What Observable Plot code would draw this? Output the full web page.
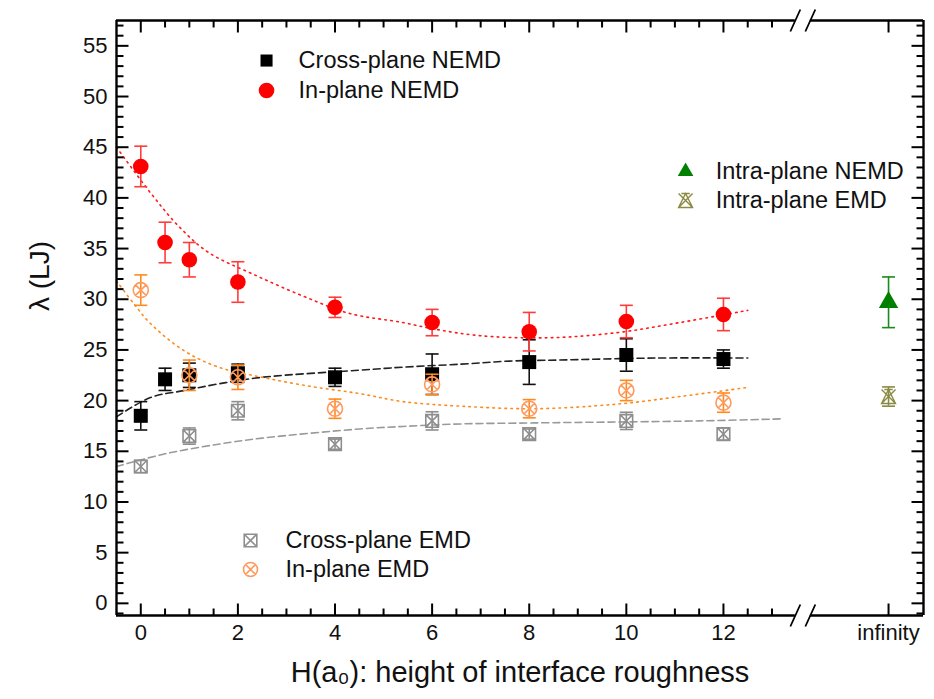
<!DOCTYPE html>
<html><head><meta charset="utf-8">
<script src="https://cdn.jsdelivr.net/npm/d3@7"></script>
<script src="https://cdn.jsdelivr.net/npm/@observablehq/plot@0.6"></script>
<style>body{margin:0;background:#fff}</style>
</head><body><div id="chart"></div>
<script>
// ---------- data ----------
const INF = 15.4; // position of the "infinity" category on the x axis
const xNEMD = [0, 0.5, 1, 2, 4, 6, 8, 10, 12];
const crossNEMD = [18.5, 22.1, 22.5, 22.7, 22.3, 22.6, 23.8, 24.5, 24.1];
const crossNEMDErr = [1.4, 1.1, 1.2, 0.9, 0.9, 2.0, 2.2, 1.6, 0.9];
const inNEMD = [43.1, 35.6, 33.9, 31.7, 29.2, 27.7, 26.8, 27.8, 28.5];
const inNEMDErr = [2.0, 2.0, 1.7, 2.0, 1.0, 1.3, 1.9, 1.6, 1.6];
const xEMD = [0, 1, 2, 4, 6, 8, 10, 12];
const crossEMD = [13.5, 16.5, 19.0, 15.7, 18.0, 16.7, 18.0, 16.7];
const crossEMDErr = [0.6, 0.8, 0.9, 0.5, 0.9, 0.5, 0.85, 0.6];
const inEMD = [30.9, 22.5, 22.3, 19.2, 21.6, 19.2, 21.0, 19.8];
const inEMDErr = [1.5, 1.5, 1.2, 0.95, 1.0, 0.9, 1.0, 0.95];
const intraNEMD = [29.7], intraNEMDErr = [2.5];
const intraEMD = [20.4], intraEMDErr = [0.95];

// fitted guide curves
const redFitX = [-0.5, 0.2, 0.8, 1.4, 2.3, 3.3, 4.3, 5.4, 6.0, 7.0, 8.4, 9.8, 11.1, 12.5];
const redFitY = [45.0, 40.5, 37.1, 34.6, 32.5, 30.4, 28.6, 27.7, 27.1, 26.4, 26.2, 26.7, 27.7, 28.9];
const orangeFitX = [-0.5, -0.15, 0.2, 0.9, 1.6, 2.5, 3.5, 4.5, 5.4, 6.6, 8.1, 9.8, 11.1, 12.5];
const orangeFitY = [31.8, 29.6, 27.6, 24.9, 23.3, 22.3, 21.4, 20.7, 19.9, 19.45, 19.2, 19.65, 20.4, 21.3];
const blackFitX = [-0.5, 0.2, 0.9, 1.6, 2.5, 4.5, 5.4, 6.6, 7.6, 8.6, 10.6, 12.5];
const blackFitY = [18.4, 20.3, 21.0, 21.65, 22.3, 23.0, 23.3, 23.6, 23.9, 24.0, 24.2, 24.2];
const grayFitX = [-0.5, 0.5, 1.6, 2.5, 4.5, 5.4, 6.6, 8.1, 11.5, 13.2];
const grayFitY = [13.5, 14.75, 15.7, 16.3, 17.2, 17.45, 17.7, 17.8, 18.0, 18.2];

// ticks
const xMajor = [0, 2, 4, 6, 8, 10, 12, INF];
const xMajorLabels = ["0", "2", "4", "6", "8", "10", "12", "infinity"];
const xMinor = [0.5, 1, 1.5, 2.5, 3, 3.5, 4.5, 5, 5.5, 6.5, 7, 7.5, 8.5, 9, 9.5, 10.5, 11, 11.5, 12.5, 13];
const yMajor = [0, 5, 10, 15, 20, 25, 30, 35, 40, 45, 50, 55];
const yMinor = d3.range(-1, 58).filter(v => v % 5 !== 0);

const legendLabels = ["Cross-plane NEMD", "In-plane NEMD", "Intra-plane NEMD", "Intra-plane EMD", "Cross-plane EMD", "In-plane EMD"];

// ---------- layout ----------
const X_DOMAIN = [-0.5, 16.12], Y_DOMAIN = [-1.2, 57.5];
const GAP = [13.48, 13.79];
const BREAK_X = 13.635;
const legendPos = [
  {sx: 2.59, tx: 3.25, y: 53.55}, {sx: 2.59, tx: 3.25, y: 50.6},
  {sx: 11.22, tx: 11.84, y: 42.6}, {sx: 11.22, tx: 11.84, y: 39.74},
  {sx: 2.26, tx: 2.98, y: 6.2}, {sx: 2.26, tx: 2.98, y: 3.34}
];

// ---------- symbols ----------
const rad = s => Math.sqrt(s / Math.PI);
const squareX = {draw(c, s) { const r = rad(s);
  c.moveTo(-r, -r); c.lineTo(r, -r); c.lineTo(r, r); c.lineTo(-r, r); c.closePath();
  c.moveTo(-r, -r); c.lineTo(r, r); c.moveTo(r, -r); c.lineTo(-r, r); }};
const circleX = {draw(c, s) { const r = rad(s), k = r * Math.SQRT1_2;
  c.moveTo(r, 0); c.arc(0, 0, r, 0, 2 * Math.PI);
  c.moveTo(-k, -k); c.lineTo(k, k); c.moveTo(k, -k); c.lineTo(-k, k); }};
const hourglass = {draw(c, s) { const r = rad(s);
  c.moveTo(-r, -r); c.lineTo(r, r); c.moveTo(r, -r); c.lineTo(-r, r);
  c.moveTo(-r, r); c.lineTo(0, -r); c.lineTo(r, r); c.closePath();
  c.moveTo(-r * 0.6, -r); c.lineTo(r * 0.6, -r); }};
const cap = {draw(c, s) { const r = rad(s); c.moveTo(-r, 0); c.lineTo(r, 0); }};
const seg = (dx, dy) => ({draw(c) { c.moveTo(0, 0); c.lineTo(dx, dy); }});
const slashes = {draw(c) {
  c.moveTo(-12.5, 11); c.lineTo(-2.5, -11);
  c.moveTo(2.5, 11); c.lineTo(12.5, -11); }};

// ---------- series table ----------
const rows = (xs, ys, es) => xs.map((x, i) => ({x, y: ys[i], lo: ys[i] - es[i], hi: ys[i] + es[i]}));
const series = [
  {name: legendLabels[4], data: rows(xEMD, crossEMD, crossEMDErr), stroke: "#8e8e8e", err: "#8e8e8e", fill: "none", symbol: squareX, r: 6.3, lr: 6.3, sw: 1.6, leg: 4},
  {name: legendLabels[0], data: rows(xNEMD, crossNEMD, crossNEMDErr), stroke: "#000", err: "#111", fill: "#000", symbol: "square", r: 7.9, lr: 6.8, sw: 0, leg: 0},
  {name: legendLabels[5], data: rows(xEMD, inEMD, inEMDErr), stroke: "#ff9a5e", err: "#ff8a1c", fill: "none", symbol: circleX, r: 7.5, lr: 7, sw: 1.6, leg: 5},
  {name: legendLabels[1], data: rows(xNEMD, inNEMD, inNEMDErr), stroke: "#ff0000", err: "#ff3c3c", fill: "#ff0000", symbol: "circle", r: 7.8, lr: 7.8, sw: 0, leg: 1},
  {name: legendLabels[2], data: rows([INF], intraNEMD, intraNEMDErr), stroke: "#008000", err: "#1a8a1a", fill: "#008000", symbol: "triangle", r: 7.2, lr: 5.8, sw: 0, leg: 2},
  {name: legendLabels[3], data: rows([INF], intraEMD, intraEMDErr), stroke: "#8a8a45", err: "#8a8a45", fill: "none", symbol: hourglass, r: 7, lr: 7, sw: 1.4, leg: 3}
];

const fits = [
  {x: grayFitX, y: grayFitY, stroke: "#9a9a9a", dash: "7,4"},
  {x: blackFitX, y: blackFitY, stroke: "#222", dash: "7,4"},
  {x: orangeFitX, y: orangeFitY, stroke: "#ff8a1c", dash: "1.6,4.4"},
  {x: redFitX, y: redFitY, stroke: "#ff1a1a", dash: "1.6,4.4"}
];

const frameSegs = [
  {y: Y_DOMAIN[0], x1: X_DOMAIN[0], x2: GAP[0]}, {y: Y_DOMAIN[0], x1: GAP[1], x2: X_DOMAIN[1]},
  {y: Y_DOMAIN[1], x1: X_DOMAIN[0], x2: GAP[0]}, {y: Y_DOMAIN[1], x1: GAP[1], x2: X_DOMAIN[1]}
];

const marks = [];
// fits
for (const f of fits) {
  marks.push(Plot.line(f.x.map((x, i) => ({x, y: f.y[i]})), {x: "x", y: "y", stroke: f.stroke, strokeWidth: 1.6, strokeDasharray: f.dash, curve: "catmull-rom"}));
}
// series
for (const s of series) {
  marks.push(Plot.ruleX(s.data, {x: "x", y1: "lo", y2: "hi", stroke: s.err, strokeWidth: 1.6}));
  marks.push(Plot.dot(s.data, {x: "x", y: "lo", symbol: cap, r: 6.5, stroke: s.err, strokeWidth: 1.6, fill: "none"}));
  marks.push(Plot.dot(s.data, {x: "x", y: "hi", symbol: cap, r: 6.5, stroke: s.err, strokeWidth: 1.6, fill: "none"}));
  marks.push(Plot.dot(s.data, {x: "x", y: "y", symbol: s.symbol, r: s.r, fill: s.fill, stroke: s.sw ? s.stroke : "none", strokeWidth: s.sw}));
  const p = legendPos[s.leg];
  marks.push(Plot.dot([p], {x: "sx", y: "y", symbol: s.symbol, r: s.lr, fill: s.fill, stroke: s.sw ? s.stroke : "none", strokeWidth: s.sw}));
  marks.push(Plot.text([p], {x: "tx", y: "y", text: () => s.name, textAnchor: "start", fontSize: 23.5, fill: "#111"}));
}
// frame
marks.push(Plot.ruleX([X_DOMAIN[0], X_DOMAIN[1]], {stroke: "#000", strokeWidth: 2.4}));
marks.push(Plot.ruleY(frameSegs, {y: "y", x1: "x1", x2: "x2", stroke: "#000", strokeWidth: 2.4}));
// break marks
marks.push(Plot.dot([BREAK_X], {x: d => d, frameAnchor: "bottom", symbol: slashes, stroke: "#000", strokeWidth: 1.8, fill: "none"}));
marks.push(Plot.dot([BREAK_X], {x: d => d, frameAnchor: "top", symbol: slashes, stroke: "#000", strokeWidth: 1.8, fill: "none"}));
// ticks (inward)
const tk = {stroke: "#000", strokeWidth: 2, fill: "none"};
marks.push(Plot.dot(xMajor, {x: d => d, frameAnchor: "bottom", symbol: seg(0, -12), ...tk}));
marks.push(Plot.dot(xMinor, {x: d => d, frameAnchor: "bottom", symbol: seg(0, -7), ...tk}));
marks.push(Plot.dot(xMajor, {x: d => d, frameAnchor: "top", symbol: seg(0, 12), ...tk}));
marks.push(Plot.dot(xMinor, {x: d => d, frameAnchor: "top", symbol: seg(0, 7), ...tk}));
marks.push(Plot.dot(yMajor, {y: d => d, frameAnchor: "left", symbol: seg(12, 0), ...tk}));
marks.push(Plot.dot(yMinor, {y: d => d, frameAnchor: "left", symbol: seg(7, 0), ...tk}));
marks.push(Plot.dot(yMajor, {y: d => d, frameAnchor: "right", symbol: seg(-12, 0), ...tk}));
marks.push(Plot.dot(yMinor, {y: d => d, frameAnchor: "right", symbol: seg(-7, 0), ...tk}));
// tick labels
marks.push(Plot.text(xMajor, {x: d => d, text: (d, i) => xMajorLabels[i], frameAnchor: "bottom", dy: 24, fontSize: 22, fill: "#111"}));
marks.push(Plot.text(yMajor, {y: d => d, text: d => String(d), frameAnchor: "left", dx: -9, textAnchor: "end", fontSize: 22, fill: "#111"}));
// axis titles
marks.push(Plot.text(["H(a\u2080): height of interface roughness"], {text: d => d, frameAnchor: "bottom", dy: 66, fontSize: 29, fill: "#111"}));
marks.push(Plot.text(["\u03bb (LJ)"], {text: d => d, frameAnchor: "left", dx: -76, dy: -7, rotate: -90, fontSize: 28, fill: "#111"}));

const chart = Plot.plot({
  width: 934, height: 699,
  marginLeft: 116, marginRight: 11, marginTop: 20, marginBottom: 84,
  x: {domain: X_DOMAIN, axis: null},
  y: {domain: Y_DOMAIN, axis: null},
  style: {fontFamily: "'Liberation Sans', Arial, Helvetica, sans-serif", background: "#fff", overflow: "visible"},
  marks
});
document.getElementById("chart").append(chart);
</script>
</body></html>
